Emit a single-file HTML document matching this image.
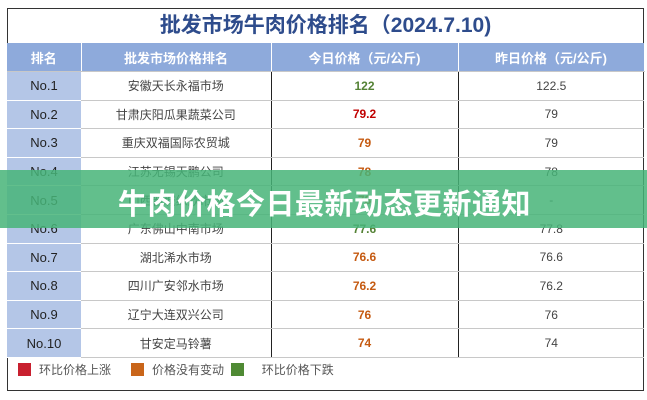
<!DOCTYPE html>
<html><head><meta charset="utf-8"><style>
body{margin:0;width:647px;height:400px;background:#fff;font-family:"Liberation Sans","Noto Sans CJK SC",sans-serif;position:relative;overflow:hidden}
#box{position:absolute;left:7px;top:8px;width:637px;height:383px;border:1px solid #333;box-sizing:border-box}
#title{position:absolute;left:7px;top:8px;width:637px;height:35px;text-align:center;line-height:35px;font-size:21px;font-weight:bold;color:#2e4c8c}
table{position:absolute;left:7px;top:43px;border-collapse:collapse;table-layout:fixed}
td,th{text-align:center;padding:0;font-size:12px;color:#444;border-bottom:1px solid #c8c8c8}
th{background:#8eaadb;color:#fff;font-weight:bold;font-size:13px;height:28px;border-right:1px solid #fff}
td{height:27.6px}
td.r{background:#b4c6e7;color:#222;font-size:13px;border-bottom:1px solid #fff}
td.c3{border-left:1px solid #222;border-right:1px solid #222;font-weight:bold}
.up{color:#c00000}.eq{color:#c55a11}.dn{color:#548235}
#legend{position:absolute;left:18px;top:361px;font-size:12px;color:#555}
.sq{display:inline-block;width:13px;height:13px;vertical-align:-2px;margin-right:8px}
#banner{position:absolute;left:0;top:170px;width:647px;height:58px;background:rgba(70,180,120,.85)}
#banner span{position:absolute;left:118px;top:11px;font-size:29px;font-weight:bold;color:#fff;letter-spacing:0.5px}
</style></head><body>
<div id="box"></div>
<div id="title">批发市场牛肉价格排名（2024.7.10)</div>
<table>
<colgroup><col style="width:74px"><col style="width:190px"><col style="width:187px"><col style="width:186px"></colgroup>
<tr><th>排名</th><th>批发市场价格排名</th><th>今日价格（元/公斤)</th><th>昨日价格（元/公斤)</th></tr>
<tr><td class="r">No.1</td><td>安徽天长永福市场</td><td class="c3 dn">122</td><td>122.5</td></tr>
<tr><td class="r">No.2</td><td>甘肃庆阳瓜果蔬菜公司</td><td class="c3 up">79.2</td><td>79</td></tr>
<tr><td class="r">No.3</td><td>重庆双福国际农贸城</td><td class="c3 eq">79</td><td>79</td></tr>
<tr><td class="r">No.4</td><td>江苏无锡天鹏公司</td><td class="c3 eq">78</td><td>78</td></tr>
<tr><td class="r">No.5</td><td>山西晋城绿欣市场</td><td class="c3 eq">78</td><td>-</td></tr>
<tr><td class="r">No.6</td><td>广东佛山中南市场</td><td class="c3 dn">77.6</td><td>77.8</td></tr>
<tr><td class="r">No.7</td><td>湖北浠水市场</td><td class="c3 eq">76.6</td><td>76.6</td></tr>
<tr><td class="r">No.8</td><td>四川广安邻水市场</td><td class="c3 eq">76.2</td><td>76.2</td></tr>
<tr><td class="r">No.9</td><td>辽宁大连双兴公司</td><td class="c3 eq">76</td><td>76</td></tr>
<tr><td class="r">No.10</td><td>甘安定马铃薯</td><td class="c3 eq">74</td><td>74</td></tr>
</table>
<div id="legend">
<span class="sq" style="background:#c8202f"></span>环比价格上涨&nbsp;&nbsp;&nbsp;&nbsp;&nbsp;
<span class="sq" style="background:#c9651a"></span>价格没有变动&nbsp;
<span class="sq" style="background:#4f8a34"></span>&nbsp;&nbsp;&nbsp;环比价格下跌</div>
<div id="banner"><span>牛肉价格今日最新动态更新通知</span></div>
</body></html>
